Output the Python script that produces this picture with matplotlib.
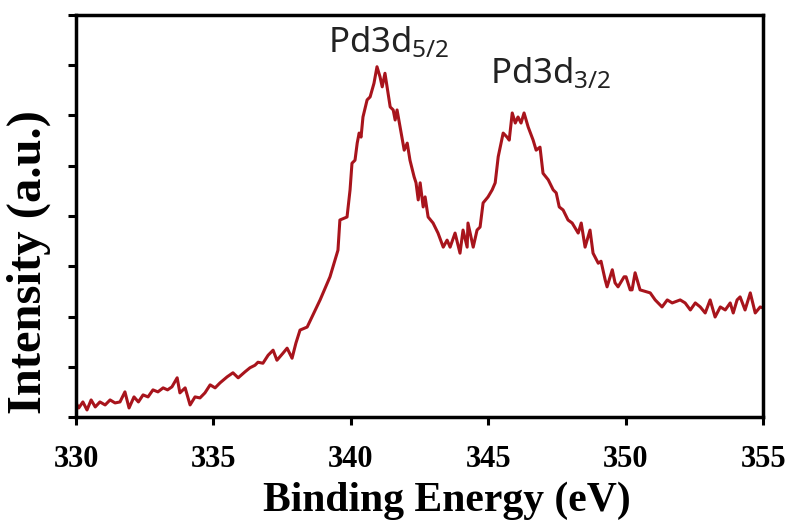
import matplotlib
matplotlib.use('Agg')
import matplotlib.pyplot as plt
import numpy as np

# binding energy (eV) and intensity (a.u.)
energy = [330.0, 330.1, 330.25, 330.4, 330.55, 330.7, 330.87, 331.06, 331.24, 331.42,
          331.6, 331.78, 331.93, 332.11, 332.27, 332.44, 332.62, 332.8, 332.98, 333.17,
          333.33, 333.49, 333.68, 333.78, 333.97, 334.15, 334.33, 334.51, 334.69, 334.88,
          335.06, 335.24, 335.5, 335.71, 335.9, 336.15, 336.33, 336.51, 336.62, 336.8,
          336.99, 337.17, 337.31, 337.53, 337.68, 337.86, 338.0, 338.15, 338.41, 338.88,
          339.24, 339.53, 339.6, 339.86, 339.97, 340.04, 340.15, 340.23, 340.3, 340.37,
          340.44, 340.59, 340.7, 340.84, 340.95, 341.06, 341.14, 341.24, 341.35, 341.43,
          341.54, 341.61, 341.68, 341.83, 341.94, 342.05, 342.15, 342.3, 342.37, 342.45,
          342.52, 342.63, 342.7, 342.81, 342.99, 343.17, 343.36, 343.5, 343.61, 343.79,
          343.97, 344.08, 344.23, 344.26, 344.45, 344.59, 344.7, 344.81, 344.99, 345.14,
          345.25, 345.36, 345.54, 345.68, 345.76, 345.87, 345.98, 346.08, 346.19, 346.3,
          346.45, 346.63, 346.74, 346.88, 346.99, 347.18, 347.36, 347.47, 347.58, 347.72,
          347.9, 348.05, 348.27, 348.38, 348.52, 348.7, 348.81, 349.0, 349.1, 349.25,
          349.32, 349.51, 349.61, 349.72, 349.94, 350.01, 350.16, 350.23, 350.34, 350.52,
          350.7, 350.89, 351.07, 351.32, 351.51, 351.69, 351.98, 352.16, 352.35, 352.53,
          352.71, 352.89, 353.07, 353.25, 353.44, 353.62, 353.8, 353.91, 354.05, 354.16,
          354.34, 354.53, 354.71, 354.89, 355.0]
intensity = [0.28, 0.18, 0.30, 0.14, 0.34, 0.20, 0.30, 0.24, 0.34, 0.28,
             0.30, 0.50, 0.18, 0.40, 0.30, 0.44, 0.40, 0.54, 0.50, 0.58,
             0.54, 0.60, 0.78, 0.48, 0.58, 0.24, 0.40, 0.38, 0.48, 0.64,
             0.58, 0.68, 0.80, 0.88, 0.78, 0.90, 0.98, 1.03, 1.09, 1.07,
             1.23, 1.33, 1.13, 1.27, 1.37, 1.17, 1.47, 1.73, 1.79, 2.33,
             2.79, 3.32, 3.92, 3.98, 4.52, 5.05, 5.11, 5.45, 5.65, 5.57,
             5.97, 6.31, 6.37, 6.64, 6.97, 6.77, 6.57, 6.84, 6.45, 6.17,
             6.11, 5.91, 6.11, 5.65, 5.31, 5.45, 5.11, 4.78, 4.66, 4.32,
             4.66, 4.18, 4.38, 3.98, 3.86, 3.66, 3.38, 3.52, 3.38, 3.66,
             3.26, 3.72, 3.38, 3.86, 3.38, 3.72, 3.78, 4.26, 4.38, 4.52,
             4.66, 5.18, 5.65, 5.57, 5.51, 6.05, 5.85, 5.97, 5.85, 6.05,
             5.77, 5.51, 5.31, 5.37, 4.85, 4.72, 4.52, 4.46, 4.18, 4.12,
             3.92, 3.86, 3.66, 3.86, 3.38, 3.72, 3.26, 3.06, 3.10, 2.73,
             2.59, 2.93, 2.67, 2.59, 2.79, 2.79, 2.53, 2.53, 2.87, 2.53,
             2.50, 2.47, 2.33, 2.19, 2.33, 2.27, 2.33, 2.27, 2.13, 2.27,
             2.19, 2.07, 2.33, 1.99, 2.19, 2.13, 2.27, 2.07, 2.33, 2.39,
             2.13, 2.47, 2.07, 2.19, 2.17]

xticks = [330, 335, 340, 345, 350, 355]
peak_labels = ['Pd3d$_{5/2}$', 'Pd3d$_{3/2}$']
peak_pos = [(339.17, 7.26), (345.07, 6.65)]

plt.rcParams['mathtext.fontset'] = 'custom'
plt.rcParams['mathtext.rm'] = 'Noto Sans'
plt.rcParams['mathtext.it'] = 'Noto Sans'

fig = plt.figure(figsize=(7.95, 5.29), dpi=100)
ax = fig.add_axes([0.0956, 0.2117, 0.8644, 0.76])

ax.plot(energy, intensity, color='#A8141C', lw=2.2)

ax.set_xlim(330, 355)
ax.set_ylim(0, 8)
ax.set_xticks(xticks)
ax.set_xticklabels([str(t) for t in xticks], family='Liberation Serif',
                   fontweight='bold', fontsize=22)
ax.set_yticks(np.arange(0, 9, 1))
ax.set_yticklabels([])
ax.tick_params(direction='out', length=6, width=2.2, pad=14)

for s in ax.spines.values():
    s.set_linewidth(2.5)

ax.set_xlabel('Binding Energy (eV)', family='Liberation Serif',
              fontweight='bold', fontsize=30)
ax.set_ylabel('Intensity (a.u.)', family='Liberation Serif',
              fontweight='bold', fontsize=35)
ax.xaxis.set_label_coords(0.54, -0.16)
ax.yaxis.set_label_coords(-0.036, 0.385)

for lab, (px, py) in zip(peak_labels, peak_pos):
    ax.text(px, py, lab, family='Noto Sans', fontsize=25,
            ha='left', va='baseline', color='#222222')

plt.savefig('out.png', dpi=100)
